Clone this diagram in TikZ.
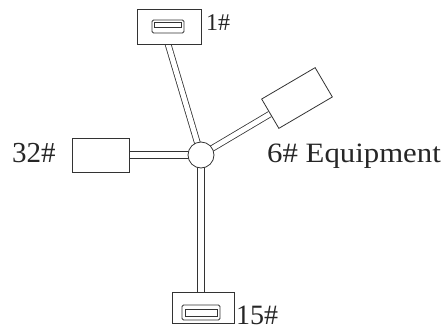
\documentclass[tikz,border=0pt]{standalone}
\usepackage{fontspec}
\setmainfont{Liberation Serif}
\usetikzlibrary{backgrounds}
\begin{document}
\begin{tikzpicture}[x=1pt,y=-1pt,
  ln/.style={draw=black!80, line width=0.8pt},
  pipe/.style={draw=black!80, line width=0.8pt, double=white, double distance=5pt},
  box/.style={ln, fill=white, inner sep=0pt, rectangle},
  rbox/.style={box, rounded corners=1.5pt},
  lbl/.style={inner sep=0pt, text=black!85}]
\useasboundingbox (0,0) rectangle (447,329);
% top unit 1#
\node[box, minimum width=64pt, minimum height=35pt] (t1) at (169,26.5) {};
\node[rbox, minimum width=32pt, minimum height=13pt] (t1in) at (168,26.5) {};
\node[box, minimum width=27pt, minimum height=5pt] (t1bar) at (168,25) {};
\coordinate (t1bend) at (168,44);
% hub
\node[ln, fill=white, circle, minimum size=26pt, inner sep=0pt] (c) at (201,155) {};
% left box 32#
\node[box, minimum width=57pt, minimum height=34pt] (lb) at (100.5,155) {};
% equipment 6#
\node[box, minimum width=62pt, minimum height=34pt, rotate=30.4] (eq) at (297,98) {};
% bottom unit 15#
\node[box, minimum width=62pt, minimum height=31pt] (b1) at (203,307.5) {};
\node[rbox, minimum width=38pt, minimum height=15pt] (b1in) at (201,312.5) {};
\node[box, minimum width=32pt, minimum height=7pt] (b1bar) at (201,313) {};
% pipes
\begin{pgfonlayer}{background}
\draw[pipe] (t1in.south) -- (t1bend) -- (c.center);
\draw[pipe] (eq) -- (c.center);
\draw[ln] ([yshift=3.2pt]lb.east) -- ([yshift=3.2pt]c.center);
\draw[ln] ([yshift=-3.2pt]lb.east) -- ([yshift=-3.2pt]c.center);
\draw[ln] ([xshift=3.2pt]c.center) -- ([xshift=3.2pt]b1in.north);
\draw[ln] ([xshift=-3.2pt]c.center) -- ([xshift=-3.2pt]b1in.north);
\end{pgfonlayer}
% labels
\node[lbl, anchor=base west, font=\fontsize{24}{24}\selectfont] (l1) at (206,31) {1\#};
\node[lbl, anchor=base west, font=\fontsize{29}{29}\selectfont] (l32) at (12,162) {32\#};
\node[lbl, anchor=base west, font=\fontsize{28}{28}\selectfont] (l6) at (267,162) {\scalebox{1.1}[1]{6\# Equipment}};
\node[lbl, anchor=base west, font=\fontsize{28}{28}\selectfont] (l15) at (236,324) {15\#};
\end{tikzpicture}
\end{document}
